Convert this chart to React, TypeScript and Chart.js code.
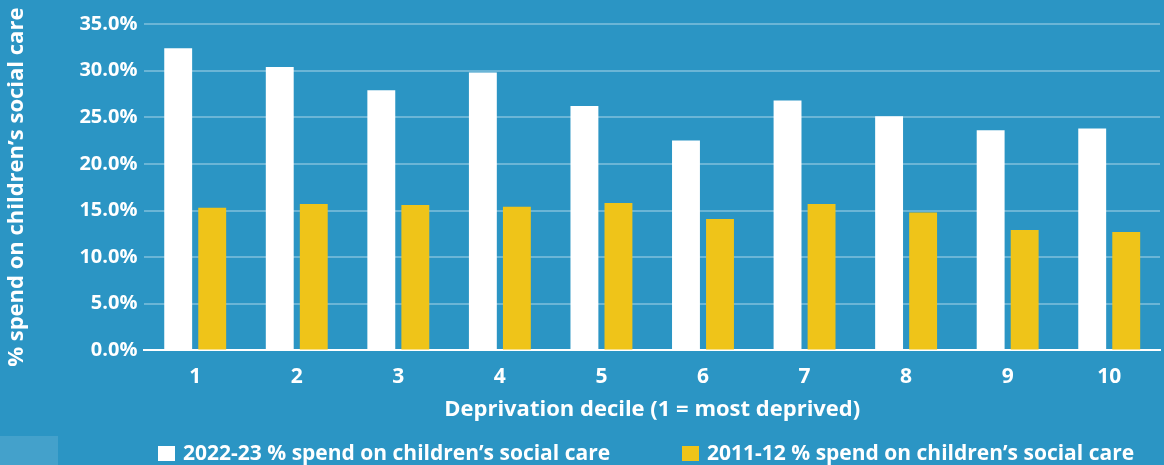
import React, { useEffect, useRef } from "react";
import { Chart, registerables } from "chart.js";

Chart.register(...registerables);

const categories = ["1", "2", "3", "4", "5", "6", "7", "8", "9", "10"];
const series2022 = [32.4, 30.4, 27.9, 29.8, 26.2, 22.5, 26.8, 25.1, 23.6, 23.8];
const series2011 = [15.3, 15.7, 15.6, 15.4, 15.8, 14.1, 15.7, 14.8, 12.9, 12.7];
const seriesNames = [
  "2022-23 % spend on children\u2019s social care",
  "2011-12 % spend on children\u2019s social care",
];
const yTitle = "% spend on children\u2019s social care";
const xTitle = "Deprivation decile (1 = most deprived)";

const BG = "#2b95c4";
const FONT = "'Open Sans', sans-serif";

export default function App() {
  const ref = useRef<HTMLCanvasElement | null>(null);
  useEffect(() => {
    document.body.style.margin = "0";
    const bgPlugin = {
      id: "bg",
      beforeDraw(chart: any) {
        const { ctx, width, height } = chart;
        ctx.save();
        ctx.fillStyle = BG;
        ctx.fillRect(0, 0, width, height);
        ctx.restore();
      },
    };
    const legendPlugin = {
      id: "customLegend",
      afterDraw(chart: any) {
        const { ctx } = chart;
        const starts = [158, 682];
        const y = 453;
        ctx.save();
        ctx.font = `700 21px ${FONT}`;
        ctx.textBaseline = "middle";
        ctx.textAlign = "left";
        chart.data.datasets.forEach((ds: any, i: number) => {
          const x = starts[i];
          ctx.fillStyle = ds.backgroundColor;
          ctx.fillRect(x, y - 7, 17, 15);
          ctx.fillStyle = "#ffffff";
          ctx.fillText(ds.label, x + 25, y + 1);
        });
        ctx.restore();
      },
    };
    const chart = new Chart(ref.current!, {
      type: "bar",
      data: {
        labels: categories,
        datasets: [
          {
            label: seriesNames[0],
            data: series2022,
            backgroundColor: "#ffffff",
            barPercentage: 0.82,
            categoryPercentage: 0.67,
          },
          {
            label: seriesNames[1],
            data: series2011,
            backgroundColor: "#efc419",
            barPercentage: 0.82,
            categoryPercentage: 0.67,
          },
        ],
      },
      options: {
        animation: false,
        responsive: true,
        maintainAspectRatio: false,
        layout: { padding: { top: 24, right: 4, left: 4, bottom: 38 } },
        plugins: {
          tooltip: { enabled: false },
          legend: { display: false },
        },
        scales: {
          x: {
            grid: { display: false, drawTicks: false, tickLength: 0 },
            border: { color: "#ffffff", width: 2 },
            ticks: {
              color: "#ffffff",
              padding: 14,
              font: { family: FONT, size: 21, weight: 700 },
            },
            title: {
              display: true,
              text: xTitle,
              color: "#ffffff",
              padding: { top: -7, bottom: 4 },
              font: { family: FONT, size: 22, weight: 700 },
            },
          },
          y: {
            min: 0,
            max: 35,
            ticks: {
              stepSize: 5,
              color: "#ffffff",
              padding: 7,
              font: { family: FONT, size: 20, weight: 700 },
              callback: (v: any) => Number(v).toFixed(1) + "%",
            },
            grid: {
              color: "rgba(255,255,255,0.3)",
              lineWidth: 2,
              drawTicks: false,
            },
            border: { display: false },
            title: {
              display: true,
              text: yTitle,
              color: "#ffffff",
              padding: { top: 0, bottom: 42 },
              font: { family: FONT, size: 22, weight: 700 },
            },
          },
        },
      },
      plugins: [bgPlugin, legendPlugin],
    });
    return () => chart.destroy();
  }, []);
  return (
    <div style={{ position: "fixed", left: 0, top: 0, width: 1164, height: 465, background: BG }}>
      <canvas ref={ref} />
      <div
        style={{
          position: "absolute",
          left: 0,
          top: 436,
          width: 58,
          height: 29,
          background: "rgba(255,255,255,0.12)",
        }}
      />
    </div>
  );
}
